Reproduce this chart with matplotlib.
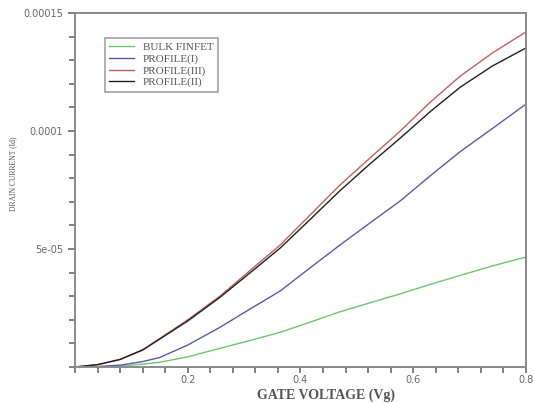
import matplotlib
matplotlib.use("Agg")
import matplotlib.pyplot as plt
from matplotlib.ticker import MultipleLocator, FixedLocator, FixedFormatter

vg = [0.0, 0.04, 0.08, 0.12, 0.15, 0.2, 0.257, 0.31, 0.364, 0.417, 0.47,
      0.523, 0.577, 0.63, 0.683, 0.74, 0.8]

bulk_finfet = [0.0, 1e-7, 4e-7, 1.2e-6, 2.0e-6, 4.3e-6, 7.9e-6, 1.12e-5, 1.47e-5,
               1.9e-5, 2.34e-5, 2.72e-5, 3.1e-5, 3.5e-5, 3.88e-5, 4.28e-5, 4.66e-5]
profile_1 = [0.0, 2e-7, 8e-7, 2.3e-6, 4.0e-6, 9.3e-6, 1.68e-5, 2.45e-5, 3.22e-5,
             4.2e-5, 5.17e-5, 6.1e-5, 7.04e-5, 8.1e-5, 9.12e-5, 1.01e-4, 1.114e-4]
profile_3 = [0.0, 1.0e-6, 3.2e-6, 7.3e-6, 1.2e-5, 2.0e-5, 3.0e-5, 4.08e-5, 5.17e-5,
             6.44e-5, 7.71e-5, 8.85e-5, 1.0e-4, 1.122e-4, 1.232e-4, 1.33e-4, 1.42e-4]
profile_2 = [0.0, 1.0e-6, 3.2e-6, 7.2e-6, 1.18e-5, 1.95e-5, 2.95e-5, 3.98e-5, 5.04e-5,
             6.25e-5, 7.47e-5, 8.6e-5, 9.7e-5, 1.082e-4, 1.185e-4, 1.275e-4, 1.352e-4]

labels = ["BULK FINFET", "PROFILE(I)", "PROFILE(III)", "PROFILE(II)"]
xtick_vals = [0.2, 0.4, 0.6, 0.8]
xtick_labels = ["0.2", "0.4", "0.6", "0.8"]
ytick_vals = [5e-05, 0.0001, 0.00015]
ytick_labels = ["5e-05", "0.0001", "0.00015"]

fig = plt.figure(figsize=(5.34, 4.03), dpi=100)
ax = fig.add_axes([0.1404, 0.0893, 0.8446, 0.8784])

ax.plot(vg, bulk_finfet, color="#6cc66c", lw=1.0, label=labels[0])
ax.plot(vg, profile_1, color="#5a5aa8", lw=1.0, label=labels[1])
ax.plot(vg, profile_3, color="#c06060", lw=1.0, label=labels[2])
ax.plot(vg, profile_2, color="#202020", lw=1.0, label=labels[3])

ax.set_xlim(0, 0.8)
ax.set_ylim(0, 0.00015)

ax.xaxis.set_major_locator(FixedLocator(xtick_vals))
ax.xaxis.set_major_formatter(FixedFormatter(xtick_labels))
ax.xaxis.set_minor_locator(MultipleLocator(0.04))
ax.yaxis.set_major_locator(FixedLocator(ytick_vals))
ax.yaxis.set_major_formatter(FixedFormatter(ytick_labels))
ax.yaxis.set_minor_locator(MultipleLocator(1e-5))

for s in ax.spines.values():
    s.set_color("#8a8a8a")
    s.set_linewidth(1.4)

ax.tick_params(which="both", direction="out", color="#6a6a6a", width=1.2,
               labelsize=7, labelcolor="#666666")
ax.tick_params(axis="x", which="both", length=4, pad=2)
ax.tick_params(axis="y", which="major", length=5)
ax.tick_params(axis="y", which="minor", length=4)

ax.set_xlabel("GATE VOLTAGE (Vg)", family="Liberation Serif", fontsize=10,
              fontweight="bold", color="#555555")
ax.xaxis.set_label_coords(0.557, -0.06)
ax.set_ylabel("DRAIN CURRENT (Id)", family="Liberation Serif", fontsize=5.5,
              color="#555555")
ax.yaxis.set_label_coords(-0.128, 0.545)

leg = ax.legend(loc="upper left", bbox_to_anchor=(0.066, 0.929), borderaxespad=0,
                frameon=True, fancybox=False, edgecolor="#8a8a8a",
                prop={"family": "Liberation Serif", "size": 8},
                handlelength=2.2, labelspacing=0.15, borderpad=0.4,
                handletextpad=0.8)
leg.get_frame().set_linewidth(1.2)
for t in leg.get_texts():
    t.set_color("#555555")

fig.savefig("out.png", dpi=100)
